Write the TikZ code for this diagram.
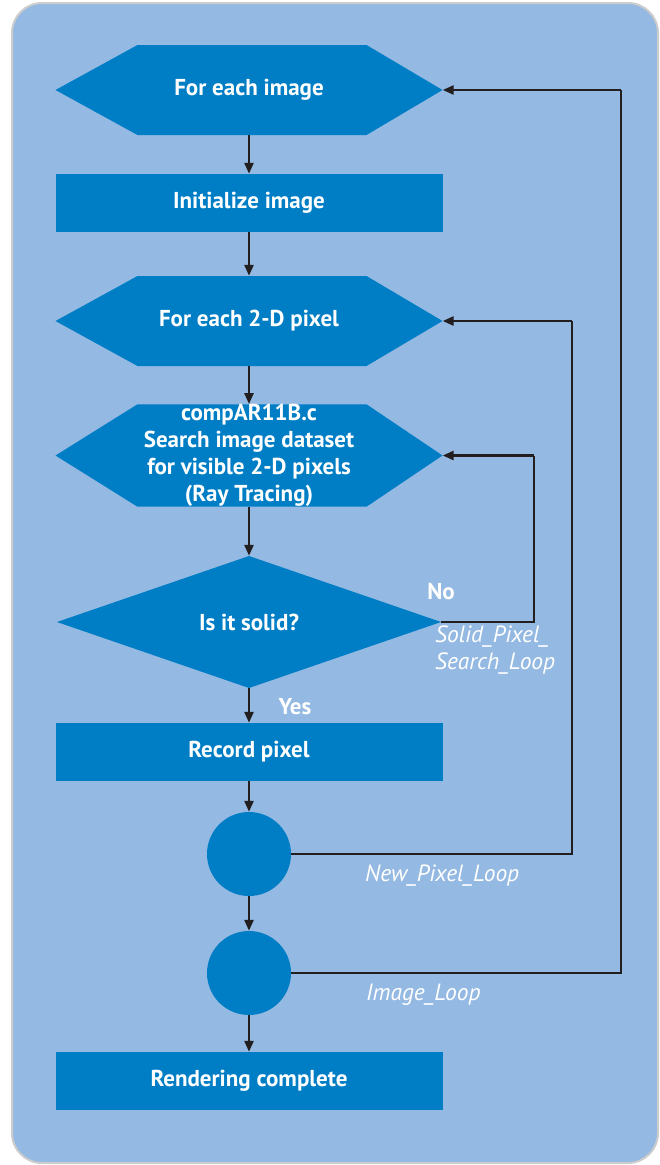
\documentclass[tikz,border=0pt]{standalone}
\usepackage{fontspec}
\setmainfont{PT Sans}
\usetikzlibrary{arrows.meta,calc}
\definecolor{nodeblue}{RGB}{0,126,197}
\definecolor{bgblue}{RGB}{148,185,226}
\definecolor{bordergray}{RGB}{204,204,204}
\definecolor{linedark}{RGB}{35,31,32}
\tikzset{
  base/.style={inner sep=0pt, text=white, font=\fontsize{23}{27}\selectfont\bfseries, align=center},
  rectbox/.style={base, rectangle, fill=nodeblue, minimum width=387pt, minimum height=58pt},
  hexbox/.style={base, rectangle, minimum width=387pt, minimum height=90pt,
    path picture={\fill[nodeblue] (path picture bounding box.west)
      -- ([xshift=82pt]path picture bounding box.north west)
      -- ([xshift=-76pt]path picture bounding box.north east)
      -- (path picture bounding box.east)
      -- ([xshift=-76pt]path picture bounding box.south east)
      -- ([xshift=82pt]path picture bounding box.south west) -- cycle;}},
  diabox/.style={base, rectangle, minimum width=384pt, minimum height=132pt,
    path picture={\fill[nodeblue] (path picture bounding box.west)
      -- (path picture bounding box.north)
      -- (path picture bounding box.east)
      -- (path picture bounding box.south) -- cycle;}},
  circbox/.style={circle, fill=nodeblue, minimum size=84pt, inner sep=0pt},
  arr/.style={draw=linedark, line width=2.5pt, -{Triangle[length=11pt,width=9pt]}},
  loopline/.style={draw=linedark, line width=2.5pt},
  looplabel/.style={text=white, font=\fontsize{23.5}{27}\selectfont\itshape, inner sep=0pt, anchor=west, align=left},
  yesno/.style={text=white, font=\fontsize{23}{25}\selectfont\bfseries, inner sep=0pt},
}
\begin{document}
\begin{tikzpicture}[x=1pt,y=-1pt]
\useasboundingbox (0,0) rectangle (660,1165);
\path[fill=bgblue, draw=bordergray, line width=2pt, rounded corners=30pt] (12,3) rectangle (658,1163);

\node[hexbox] (h1) at (249,90) {For each image};
\node[rectbox] (r1) at (249,203) {Initialize image};
\node[hexbox] (h2) at (249,321) {For each 2-D pixel};
\node[hexbox] (h3) at (249,455.5) {compAR11B.c\\Search image dataset\\for visible 2-D pixels\\(Ray Tracing)};
\node[diabox] (d) at (249,622) {Is it solid?};
\node[rectbox] (r2) at (249,752) {Record pixel};
\node[circbox] (c1) at (249,854) {};
\node[circbox] (c2) at (249,973) {};
\node[rectbox] (r3) at (249,1081) {Rendering complete};

\draw[arr] (h1.south) -- (r1.north);
\draw[arr] (r1.south) -- (h2.north);
\draw[arr] (h2.south) -- (h3.north);
\draw[arr] (h3.south) -- (d.north);
\draw[arr] (d.south) -- (r2.north);
\draw[arr] (r2.south) -- (c1.north);
\draw[arr] (c1.south) -- (c2.north);
\draw[arr] (c2.south) -- (r3.north);

\coordinate (k1) at (534,455.5);
\coordinate (k2) at (572,321);
\coordinate (k3) at (621,90);
\draw[loopline] (d.east) -| (k1);
\draw[arr] (k1) -- (h3.east);
\draw[loopline] (c1.east) -| (k2);
\draw[arr] (k2) -- (h2.east);
\draw[loopline] (c2.east) -| (k3);
\draw[arr] (k3) -- (h1.east);

\node[yesno] (no) at (441,592) {No};
\node[yesno] (yes) at (295,707) {Yes};
\node[looplabel] (l1) at (435,650) {Solid\_Pixel\_\\Search\_Loop};
\node[looplabel] (l2) at (365,876) {New\_Pixel\_Loop};
\node[looplabel] (l3) at (366,995) {Image\_Loop};
\end{tikzpicture}
\end{document}
